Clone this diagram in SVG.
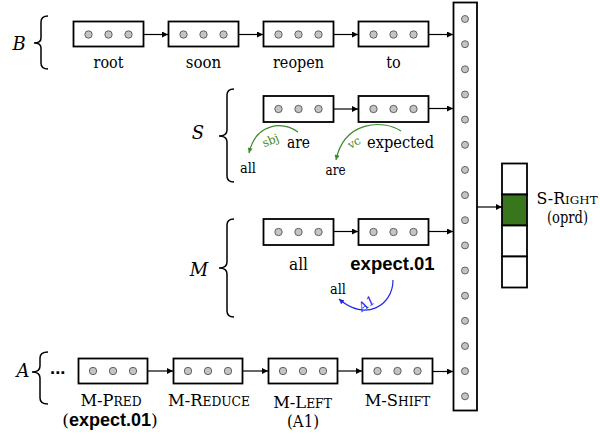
<svg xmlns="http://www.w3.org/2000/svg" width="600" height="439" viewBox="0 0 600 439">
<style>
.box{fill:#fff;stroke:#000;stroke-width:1.8}
.dot{fill:#c4c4c4;stroke:#444;stroke-width:0.8}
.cell{fill:#fff;stroke:#000;stroke-width:1.8}
.con{stroke:#000;stroke-width:1.2;fill:none;marker-end:url(#ah)}
.br{stroke:#000;stroke-width:1.5;fill:none}
.tx{font-family:'DejaVu Serif','Liberation Serif',serif;font-size:17.2px;fill:#000}
.cap{font-family:'DejaVu Serif','Liberation Serif',serif;font-size:16.3px;fill:#000}
.sm{font-family:'DejaVu Serif','Liberation Serif',serif;font-size:14.5px;fill:#000}
.it{font-family:'DejaVu Serif','Liberation Serif',serif;font-style:italic;font-size:18px;fill:#000}
.bd{font-family:'Liberation Sans',Arial,sans-serif;font-weight:bold;font-size:18.5px;fill:#000}
.garc{stroke:#3b8a2b;stroke-width:1.2;fill:none;marker-end:url(#ag)}
.barc{stroke:#2323ee;stroke-width:1.2;fill:none;marker-end:url(#ab)}
.gl{font-family:'DejaVu Serif','Liberation Serif',serif;font-size:11.5px;fill:#3b8a2b}
.bl{font-family:'DejaVu Serif','Liberation Serif',serif;font-style:italic;font-size:12.5px;fill:#2323ee}
.sc{font-size:12.3px}
</style>
<defs>
<marker id="ah" viewBox="0 0 10 10" refX="10" refY="5" markerWidth="8" markerHeight="6" markerUnits="userSpaceOnUse" orient="auto"><path d="M0,0 L10,5 L0,10 z" fill="#000"/></marker>
<marker id="ag" viewBox="0 0 10 10" refX="10" refY="5" markerWidth="6" markerHeight="5" markerUnits="userSpaceOnUse" orient="auto"><path d="M0,0 L10,5 L0,10 z" fill="#3b8a2b"/></marker>
<marker id="ab" viewBox="0 0 10 10" refX="10" refY="5" markerWidth="6" markerHeight="5" markerUnits="userSpaceOnUse" orient="auto"><path d="M0,0 L10,5 L0,10 z" fill="#2323ee"/></marker>
<g id="boxdots"><circle class="dot" cx="15" cy="0" r="3.7"/><circle class="dot" cx="35" cy="0" r="3.7"/><circle class="dot" cx="55" cy="0" r="3.7"/></g>
</defs>

<g id="label-B"><text class="it" x="19" y="50" text-anchor="middle">B</text><path class="br" d="M48,16 Q41,16 41,22 L41,38 Q41,43 34,43 Q41,43 41,48 L41,63 Q41,69 48,69"/></g>
<g id="label-S"><text class="it" x="198" y="139" text-anchor="middle">S</text><path class="br" d="M234,89 Q227,89 227,95 L227,130 Q227,136 219,136 Q227,136 227,142 L227,176 Q227,182 234,182"/></g>
<g id="label-M"><text class="it" x="199" y="276" text-anchor="middle">M</text><path class="br" d="M234,219 Q227,219 227,225 L227,262 Q227,268 219,268 Q227,268 227,274 L227,311 Q227,317 234,317"/></g>
<g id="label-A"><text class="it" x="23" y="377" text-anchor="middle">A</text><path class="br" d="M48,352 Q40,352 40,358 L40,366 Q40,372 32,372 Q40,372 40,378 L40,398 Q40,404 48,404"/><text class="bd" x="50" y="374">...</text></g>

<g id="B-root"><rect class="box" x="73.5" y="21.5" width="70" height="25"/><use href="#boxdots" x="73.5" y="34.5"/><text class="tx" x="108.5" y="68" text-anchor="middle" textLength="30" lengthAdjust="spacingAndGlyphs">root</text></g>
<g id="B-soon"><rect class="box" x="168.5" y="21.5" width="70" height="25"/><use href="#boxdots" x="168.5" y="34.5"/><text class="tx" x="203.5" y="68" text-anchor="middle" textLength="35.5" lengthAdjust="spacingAndGlyphs">soon</text></g>
<g id="B-reopen"><rect class="box" x="263.5" y="21.5" width="70" height="25"/><use href="#boxdots" x="263.5" y="34.5"/><text class="tx" x="298.5" y="68" text-anchor="middle" textLength="51" lengthAdjust="spacingAndGlyphs">reopen</text></g>
<g id="B-to"><rect class="box" x="358.5" y="21.5" width="70" height="25"/><use href="#boxdots" x="358.5" y="34.5"/><text class="tx" x="393.5" y="68" text-anchor="middle" textLength="14.5" lengthAdjust="spacingAndGlyphs">to</text></g>

<g id="S-are"><rect class="box" x="263.5" y="96" width="70" height="26"/><use href="#boxdots" x="263.5" y="109"/><text class="tx" x="298.5" y="148" text-anchor="middle" textLength="23" lengthAdjust="spacingAndGlyphs">are</text><text class="sm" x="248" y="173" text-anchor="middle" textLength="16" lengthAdjust="spacingAndGlyphs">all</text><path class="garc" d="M298,132 C282,121 256,123 249,153"/><text class="gl" x="272" y="144" text-anchor="middle" transform="rotate(-22 272 144)">sbj</text></g>
<g id="S-expected"><rect class="box" x="358.5" y="96" width="70" height="26"/><use href="#boxdots" x="358.5" y="109"/><text class="tx" x="400.5" y="148" text-anchor="middle" textLength="67" lengthAdjust="spacingAndGlyphs">expected</text><text class="sm" x="335.5" y="175" text-anchor="middle" textLength="20" lengthAdjust="spacingAndGlyphs">are</text><path class="garc" d="M401,131 C383,119 344,121 336,160"/><text class="gl" x="356" y="146" text-anchor="middle" transform="rotate(-30 356 146)">vc</text></g>

<g id="M-all"><rect class="box" x="263.5" y="219" width="70" height="26"/><use href="#boxdots" x="263.5" y="232"/><text class="tx" x="298.5" y="270" text-anchor="middle" textLength="19" lengthAdjust="spacingAndGlyphs">all</text></g>
<g id="M-expect"><rect class="box" x="358.5" y="219" width="70" height="26"/><use href="#boxdots" x="358.5" y="232"/><text class="bd" x="392.5" y="270" text-anchor="middle">expect.01</text><text class="sm" x="338" y="294" text-anchor="middle" textLength="16" lengthAdjust="spacingAndGlyphs">all</text><path class="barc" d="M393,280 C393,306 365,322 339,299"/><text class="bl" x="369" y="307" text-anchor="middle" transform="rotate(-35 369 307)">A1</text></g>

<g id="A-pred"><rect class="box" x="78.5" y="358.5" width="69" height="25"/><use href="#boxdots" x="78" y="371"/><text class="cap" x="111" y="406" text-anchor="middle">M-P<tspan class="sc">RED</tspan></text><text class="tx" x="110" y="426" text-anchor="middle">(<tspan class="bd" style="font-size:18px">expect.01</tspan>)</text></g>
<g id="A-reduce"><rect class="box" x="173.5" y="358.5" width="69" height="25"/><use href="#boxdots" x="173" y="371"/><text class="cap" x="209" y="406" text-anchor="middle">M-R<tspan class="sc">EDUCE</tspan></text></g>
<g id="A-left"><rect class="box" x="268.5" y="358.5" width="69" height="25"/><use href="#boxdots" x="268" y="371"/><text class="cap" x="302.5" y="408" text-anchor="middle">M-L<tspan class="sc">EFT</tspan></text><text class="tx" x="303" y="427" text-anchor="middle" textLength="32" lengthAdjust="spacingAndGlyphs">(A1)</text></g>
<g id="A-shift"><rect class="box" x="362.5" y="358.5" width="70" height="25"/><use href="#boxdots" x="362.5" y="371"/><text class="cap" x="397.5" y="406" text-anchor="middle">M-S<tspan class="sc">HIFT</tspan></text></g>

<g id="column">
<rect class="box" x="453.5" y="2.5" width="23.5" height="408"/>
<circle class="dot" cx="465" cy="19" r="3.5"/><circle class="dot" cx="465" cy="44.2" r="3.5"/><circle class="dot" cx="465" cy="69.3" r="3.5"/><circle class="dot" cx="465" cy="94.5" r="3.5"/>
<circle class="dot" cx="465" cy="119.6" r="3.5"/><circle class="dot" cx="465" cy="144.8" r="3.5"/><circle class="dot" cx="465" cy="169.9" r="3.5"/><circle class="dot" cx="465" cy="195.1" r="3.5"/>
<circle class="dot" cx="465" cy="220.2" r="3.5"/><circle class="dot" cx="465" cy="245.4" r="3.5"/><circle class="dot" cx="465" cy="270.5" r="3.5"/><circle class="dot" cx="465" cy="295.7" r="3.5"/>
<circle class="dot" cx="465" cy="320.8" r="3.5"/><circle class="dot" cx="465" cy="346" r="3.5"/><circle class="dot" cx="465" cy="371.1" r="3.5"/><circle class="dot" cx="465" cy="396.3" r="3.5"/>
</g>

<g id="stack">
<rect class="cell" x="502" y="163.5" width="25" height="31"/>
<rect class="cell" x="502" y="194.5" width="25" height="31" style="fill:#38761d"/>
<rect class="cell" x="502" y="225.5" width="25" height="31"/>
<rect class="cell" x="502" y="256.5" width="25" height="31"/>
<text class="cap" x="567" y="204" text-anchor="middle" style="font-size:15.8px">S-R<tspan class="sc" style="font-size:11.9px">IGHT</tspan></text>
<text class="tx" x="567.5" y="223" text-anchor="middle" textLength="41" lengthAdjust="spacingAndGlyphs">(oprd)</text>
</g>

<g id="connectors">
<line class="con" x1="144" y1="34.5" x2="168" y2="34.5"/>
<line class="con" x1="239" y1="34.5" x2="263" y2="34.5"/>
<line class="con" x1="334" y1="34.5" x2="358" y2="34.5"/>
<line class="con" x1="429" y1="34.5" x2="453" y2="34.5"/>
<line class="con" x1="334" y1="109" x2="358" y2="109"/>
<line class="con" x1="429" y1="108.5" x2="453" y2="108.5"/>
<line class="con" x1="334" y1="231.5" x2="358" y2="231.5"/>
<line class="con" x1="429" y1="231.5" x2="453" y2="231.5"/>
<line class="con" x1="148" y1="371" x2="173" y2="371"/>
<line class="con" x1="243" y1="371" x2="268" y2="371"/>
<line class="con" x1="338" y1="371" x2="362" y2="371"/>
<line class="con" x1="433" y1="371.5" x2="453" y2="371.5"/>
<line class="con" x1="477" y1="207" x2="502" y2="207"/>
</g>
</svg>
